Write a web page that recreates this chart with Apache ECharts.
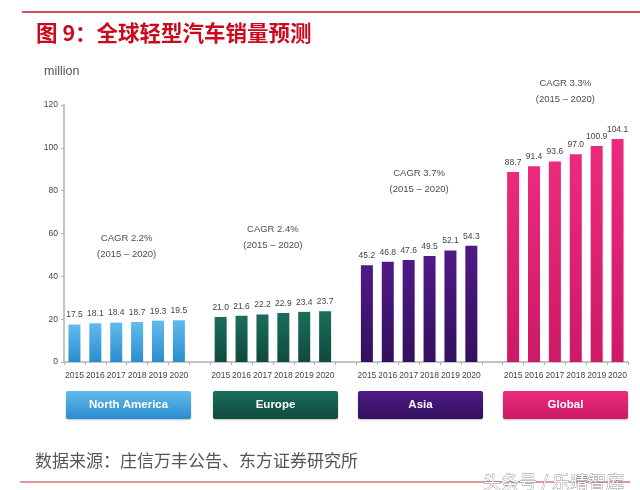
<!DOCTYPE html>
<html>
<head>
<meta charset="utf-8">
<script src="https://cdn.jsdelivr.net/npm/echarts@6/dist/echarts.min.js"></script>
<style>
html,body{margin:0;padding:0;background:#fff;}
#chart{width:640px;height:490px;}
</style>
</head>
<body>
<div id="chart"></div>
<script>
var years = ['2015','2016','2017','2018','2019','2020'];
var regions = ['North America','Europe','Asia','Global'];
var northAmerica = [17.5,18.1,18.4,18.7,19.3,19.5];
var europe = [21.0,21.6,22.2,22.9,23.4,23.7];
var asia = [45.2,46.8,47.6,49.5,52.1,54.3];
var globalSales = [88.7,91.4,93.6,97.0,100.9,104.1];
var cagr = ['CAGR 2.2%','CAGR 2.4%','CAGR 3.7%','CAGR 3.3%'];
var cagrPeriod = '(2015 – 2020)';
var yTicks = [0,20,40,60,80,100,120];

var groups = [northAmerica, europe, asia, globalSales];
var topColors = ['#62bbec','#1b6e5c','#4f1a86','#ec2a7c'];
var botColors = ['#2a8ccf','#0f4a3d','#33105f','#cc1a66'];

var categories = [];
var seriesData = [[],[],[],[]];
groups.forEach(function(g, gi){
  years.forEach(function(y, yi){
    categories.push(y);
    for (var k=0;k<4;k++) seriesData[k].push(k===gi ? g[yi] : null);
  });
  if (gi < groups.length-1) {
    categories.push('');
    for (var k=0;k<4;k++) seriesData[k].push(null);
  }
});

var chart = echarts.init(document.getElementById('chart'));
var numFont = '"Liberation Sans",sans-serif';

var series = regions.map(function(name, i){
  return {
    name: name,
    type: 'bar',
    stack: 'all',
    barWidth: 12,
    data: seriesData[i],
    itemStyle: {
      color: new echarts.graphic.LinearGradient(0,0,0,1,[
        {offset:0,color:topColors[i]},{offset:1,color:botColors[i]}
      ])
    },
    label: {
      show: true,
      position: 'top',
      distance: 5,
      fontSize: 8.5,
      color: '#444',
      fontFamily: numFont,
      formatter: function(p){ return p.value == null ? '' : Number(p.value).toFixed(1); }
    }
  };
});

var gridL = 64, gridR = 628, slots = categories.length;
var slotW = (gridR-gridL)/slots;
var graphics = [];
var cagrY = [238, 229, 173, 83];
groups.forEach(function(g, gi){
  var startIdx = gi*7;
  var cx = gridL + slotW*(startIdx+3);
  graphics.push({
    type:'text', x: cx, y: cagrY[gi],
    style:{text: cagr[gi], textAlign:'center', textVerticalAlign:'middle', fill:'#4d4d4d',
      font:'9.5px "Liberation Sans",sans-serif'}
  });
  graphics.push({
    type:'text', x: cx, y: cagrY[gi]+16,
    style:{text: cagrPeriod, textAlign:'center', textVerticalAlign:'middle', fill:'#4d4d4d',
      font:'9.5px "Liberation Sans",sans-serif'}
  });
});
var boxX = [66, 213, 358, 503];
regions.forEach(function(name, i){
  graphics.push({
    type:'rect', shape:{x:boxX[i], y:391, width:125, height:28, r:2},
    style:{fill:new echarts.graphic.LinearGradient(0,0,0,1,[
      {offset:0,color:topColors[i]},{offset:1,color:botColors[i]}]),
      shadowBlur:2, shadowColor:'rgba(0,0,0,0.25)', shadowOffsetY:1}
  });
  graphics.push({
    type:'text', x: boxX[i]+62.5, y: 405,
    style:{text:name, textAlign:'center', textVerticalAlign:'middle', fill:'#fff',
      font:'bold 11.5px "Liberation Sans",sans-serif'}
  });
});
graphics.push({type:'line', shape:{x1:22,y1:12,x2:640,y2:12}, style:{stroke:'#c8102e', lineWidth:1.5}});
graphics.push({type:'text', x:36, y:33, style:{text:'图 9：全球轻型汽车销量预测', fill:'#cc0a1e', textVerticalAlign:'middle',
  font:'bold 21.5px "Noto Sans CJK SC",sans-serif'}});
graphics.push({type:'text', x:44, y:72, style:{text:'million', fill:'#555', textVerticalAlign:'middle',
  font:'12.5px "Liberation Sans",sans-serif'}});
graphics.push({type:'text', x:35, y:461, style:{text:'数据来源：庄信万丰公告、东方证券研究所', fill:'#555', textVerticalAlign:'middle',
  font:'17px "Noto Sans CJK SC",sans-serif'}});
graphics.push({type:'line', shape:{x1:20,y1:482,x2:630,y2:482}, style:{stroke:'#c0343c', lineWidth:1.2}});
graphics.push({type:'text', x:483, y:482, style:{text:'头条号 / 乐晴智库', fill:'#ffffff', textVerticalAlign:'middle',
  stroke:'#8a8a8a', lineWidth:0.8, font:'18px "Noto Sans CJK SC",sans-serif'}});

chart.setOption({
  animation:false,
  backgroundColor:'#fff',
  grid:{left:gridL, right:640-gridR, top:105, bottom:128, containLabel:false},
  xAxis:{
    type:'category',
    data:categories,
    axisLine:{lineStyle:{color:'#c4c4c4', width:2}},
    axisTick:{show:true, length:3, lineStyle:{color:'#b0b0b0'}},
    axisLabel:{interval:0, fontSize:8.5, color:'#444', fontFamily:numFont, margin:9}
  },
  yAxis:{
    type:'value',
    min:yTicks[0], max:yTicks[yTicks.length-1], interval:20,
    splitLine:{show:false},
    axisLine:{show:true, lineStyle:{color:'#c4c4c4', width:2}},
    axisTick:{show:true, length:3, lineStyle:{color:'#b0b0b0'}},
    axisLabel:{fontSize:8.5, color:'#444', fontFamily:numFont, margin:6}
  },
  series: series,
  graphic: graphics
});
</script>
</body>
</html>
